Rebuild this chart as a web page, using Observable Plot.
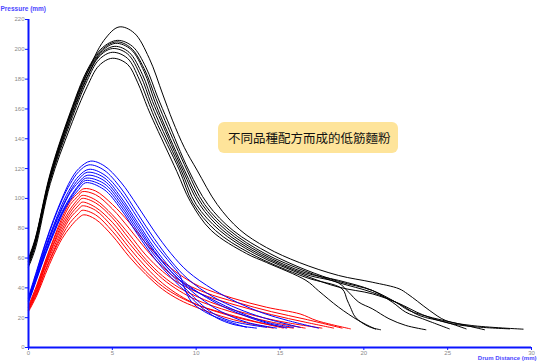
<!DOCTYPE html>
<html><head><meta charset="utf-8">
<script src="https://cdn.jsdelivr.net/npm/d3@7"></script>
<script src="https://cdn.jsdelivr.net/npm/@observablehq/plot@0.6"></script>
<style>
html,body{margin:0;padding:0;background:#fff;}
#wrap{position:relative;width:538px;height:362px;}
#note{position:absolute;left:218px;top:122px;width:180px;height:31px;background:#fee49a;border-radius:6px;
 font-family:"Noto Sans CJK TC","Noto Sans CJK SC",sans-serif;font-size:12.5px;line-height:31px;padding-left:10px;box-sizing:border-box;color:#111;white-space:nowrap;}
</style></head><body><div id="wrap"></div>
<script>
// x = drum distance (mm), y = pressure (mm)
const black1 = [[0,58],[0.4,72],[1.3,115],[2.5,156],[3.5,184],[4.5,206],[5.4,215],[6.3,211],[7.2,194],[8,170],[8.6,152],[9.3,134],[10.05,119],[11.25,96],[12.6,79],[14.2,67],[16.15,57],[18.5,48.3],[20.5,43.8],[22.1,39.4],[22.6,36],[23.2,31],[23.9,25],[24.9,18],[26.4,14.8],[29.5,12.3]];
const black2 = [[0,60],[0.4,73],[1.3,117],[2.5,158],[3.5,186],[4.4,201],[5.3,206],[6.2,202],[7,188],[7.7,168],[8.3,152],[9.55,119],[10.7,96],[12.2,78.5],[14.4,63],[16.55,52],[18.5,44.3],[20.5,38.3],[21.9,30.4],[22.7,24.8],[24.1,19.9],[25.5,16.3],[27.2,11.9]];
const black3 = [[0,59],[0.4,72],[1.3,116],[2.5,157],[3.5,185],[4.4,200],[5.25,205],[6.1,201],[6.9,187],[7.6,167],[8.15,152],[9.45,119],[10.5,96],[12,78.5],[14.1,63],[16.55,51],[18.5,43.5],[20.5,37],[22.1,29.3],[23.3,21.5],[24.9,17],[26.1,12.5]];
const black4 = [[0,58],[0.4,71],[1.3,115],[2.5,156],[3.5,184],[4.4,199],[5.2,204],[6.1,200],[6.9,185],[7.5,166],[8,152],[9.3,119],[10.35,96],[11.8,78.5],[13.9,63],[16.55,50],[18.5,45],[20.5,38.3],[21.7,30.4],[22.5,23.7],[23.5,19.3],[25.1,12.5]];
const black5 = [[0,57],[0.4,70],[1.3,114],[2.5,154],[3.5,182],[4.3,197],[5.15,202],[6,198],[6.8,183],[7.4,165],[7.9,152],[9.2,119],[10.2,96],[11.6,78.5],[13.7,63],[16.55,49],[18.5,43.2],[19.1,37],[19.7,30.4],[20.5,26],[21.5,19.3],[22.5,14.8],[23.7,11.9]];
const black6 = [[0,56],[0.4,69],[1.3,113],[2.5,153],[3.5,181],[4.2,195],[5,200.5],[5.9,197],[6.7,182],[7.3,164],[7.75,152],[9.1,119],[10,96],[11.4,78.5],[13.5,63],[16.55,48],[18.5,40.5],[20.5,36],[22,30],[23.5,22],[25,16.5],[26.5,14],[28.7,12.5]];
const black7 = [[0,55],[0.4,68],[1.3,112],[2.5,151],[3.5,179],[4.2,193],[5,198],[5.9,194],[6.6,180],[7.2,163],[7.6,152],[9,119],[9.8,97],[11.15,78.5],[13.25,63],[16.55,47],[18.7,39.4],[19,32],[19.2,27],[19.5,20.3],[20.3,14],[21,11.9]];
const black8 = [[0,54],[0.4,66],[1.3,110],[2.5,148],[3.5,175],[4.2,189],[5,194],[5.9,190],[6.5,178],[7.1,161],[7.45,152],[8.85,118],[9.65,98],[10.9,78.5],[13,63],[14.2,57],[16.55,45],[17.3,38],[18.5,27],[19.7,18],[20.7,12.3]];

const blue1 = [[0,34],[0.5,52],[1,70],[1.5,86],[2,100],[2.5,112],[3,120],[3.7,125],[4.5,122],[5.5,111],[6.5,95],[7.5,78],[8.5,63],[9.5,51],[11,39],[12.5,30],[14,23],[15.5,18],[17.3,13]];
const blue2 = [[0,33],[0.5,51],[1,69],[1.5,85],[2,99],[2.5,110],[3,118],[3.6,122.5],[4.5,119],[5.5,107],[6.5,90],[7.5,73],[8.5,58],[9.5,46],[11,34],[12.5,26],[14,20],[16.2,13.5]];
const blue3 = [[0,33],[0.5,50],[1,67],[1.5,82],[2,96],[2.5,107],[3,115],[3.6,119.5],[4.5,116],[5.5,104],[6.5,87],[7.5,70],[8.5,56],[9,49],[9.3,40],[9.7,31],[10.5,24],[11.5,19],[13,13.5]];
const blue4 = [[0,32],[0.5,49],[1,66],[1.5,81],[2,94],[2.5,105],[3,113],[3.5,117.5],[4.5,114],[5.5,101],[6.5,84],[7.5,67],[8.5,53],[9.5,42],[11,31],[12.5,23],[14,17],[15.4,13]];
const blue5 = [[0,32],[0.5,48],[1,65],[1.5,80],[2,93],[2.5,104],[3,111],[3.5,115.5],[4.5,112],[5.5,99],[6.5,82],[7.5,65],[8.5,51],[9.5,40],[10.5,31],[11.5,24],[13,17],[14.8,13]];
const blue6 = [[0,31],[0.5,47],[1,63],[1.5,78],[2,91],[2.5,101],[3,109],[3.4,113.5],[4.5,110],[5.5,97],[6.5,80],[7.5,64],[8.5,51],[9.5,41],[11,32],[12.5,24],[14.2,17],[15.8,13.5]];
const blue7 = [[0,31],[0.5,47],[1,63],[1.5,77],[2,90],[2.5,100],[3,108],[3.4,112],[4.5,108],[5.5,95],[6.5,78],[7.5,62],[8.5,49],[9.5,38],[10.2,30],[11,23],[12,18],[14.2,13.5]];
const blue8 = [[0,30],[0.5,46],[1,62],[1.5,76],[2,89],[2.5,99],[3,106],[3.4,110.5],[4.5,106],[5.5,93],[6.5,76],[7.5,60],[8.5,47],[9.5,36],[10.2,28],[11.2,20],[12.2,15.5],[13.6,13]];

const red1 = [[0,28],[0.5,42],[1,58],[1.5,73],[2,87],[2.5,98],[3,104],[3.3,106.5],[4,105],[5,96],[6,84],[7,70],[8,58],[9,49],[10.2,41],[12.2,33],[14.2,27],[16.2,22.5],[17.2,18],[19.2,12.5]];
const red2 = [[0,27],[0.5,41],[1,57],[1.5,72],[2,85],[2.5,96],[3,102],[3.2,104.5],[4,102.5],[5,93],[6,80],[7,66],[8,54],[9,45],[10.5,37],[12.5,30],[14.5,24],[16.5,19],[18.7,13]];
const red3 = [[0,27],[0.5,40],[1,56],[1.5,70],[2,83],[2.5,93],[3,100],[3.2,102],[4,99],[5,89],[6,76],[7,62],[8,51],[9,43],[10.5,35],[12.5,28],[14.5,22],[16.5,17],[18.2,13]];
const red4 = [[0,26],[0.5,39],[1,55],[1.5,69],[2,81],[2.5,91],[3,98],[3.2,100],[4,97],[5,87],[6,73],[7,59],[8,48],[9,40],[10.5,32],[12,26],[14,20],[15.5,16.5],[17.5,13]];
const red5 = [[0,26],[0.5,38],[1,54],[1.5,67],[2,79],[2.5,89],[3,95.5],[3.2,97.5],[4,94],[5,84],[6,70],[7,57],[8,46],[9,38],[10,32],[11.5,26],[13,21],[14.5,17],[16.5,13]];
const red6 = [[0,25],[0.5,37],[1,52],[1.5,65],[2,77],[2.5,87],[3,93],[3.2,95],[4,92],[5,81],[6,67],[7,54],[8,43],[9,35],[10,29],[11.5,23],[13,18.5],[14.5,15],[15.8,13]];
const red7 = [[0,25],[0.5,36],[1,51],[1.5,64],[2,75],[2.5,84],[3,90],[3.2,92],[4,89],[5,78],[6,64],[7,51],[8,41],[9,34],[10.2,28],[12,22],[13.5,17.5],[15.2,13]];
const red8 = [[0,24],[0.5,35],[1,49],[1.5,62],[2,73],[2.5,81],[3,87],[3.3,89],[4,86],[5,75],[6,61],[7,49],[8,39],[9,32],[10,27],[11.5,21],[13,16.5],[14.6,13]];

const xTicks = [0, 5, 10, 15, 20, 25, 30];
const yTicks = [0, 20, 40, 60, 80, 100, 120, 140, 160, 180, 200, 220];
const xTitle = "Drum Distance (mm)";
const yTitle = "Pressure (mm)";
const noteText = "不同品種配方而成的低筋麵粉";

const families = [
  {name: "black", color: "#000000", curves: [black1, black2, black3, black4, black5, black6, black7, black8]},
  {name: "red", color: "#ff0000", curves: [red1, red2, red3, red4, red5, red6, red7, red8]},
  {name: "blue", color: "#0000ff", curves: [blue1, blue2, blue3, blue4, blue5, blue6, blue7, blue8]}
];
const rows = [];
families.forEach(f => f.curves.forEach((c, i) => c.forEach(([x, y]) => rows.push({x, y, id: f.name + i, fam: f.name}))));

const axisColor = "#0a14ff";
const titleColor = "#4b46ff";

const chart = Plot.plot({
  width: 538, height: 362,
  marginLeft: 28, marginRight: 7, marginTop: 19, marginBottom: 15,
  style: {fontFamily: "Liberation Sans, Arial, sans-serif", background: "#fff", overflow: "visible"},
  x: {domain: [0, 30]},
  y: {domain: [0, 220]},
  color: {domain: families.map(f => f.name), range: families.map(f => f.color)},
  marks: [
    Plot.line(rows, {x: "x", y: "y", z: "id", stroke: "fam", strokeWidth: 1, curve: "catmull-rom"}),
    Plot.axisX(xTicks, {tickSize: 3, tickPadding: 0, fontSize: 6, stroke: axisColor, color: "#8a8a8a", label: null}),
    Plot.axisY(yTicks, {tickSize: 3, tickPadding: 1, fontSize: 6, stroke: axisColor, color: "#8a8a8a", label: null}),
    Plot.ruleX([0], {y1: 0, y2: 220, stroke: axisColor, strokeWidth: 2}),
    Plot.ruleY([0], {x1: 0, x2: 30, stroke: axisColor, strokeWidth: 2}),
    Plot.text([yTitle], {frameAnchor: "top-left", dx: -28, dy: -13, textAnchor: "start", fontSize: 6.5, fontWeight: "bold", fill: titleColor}),
    Plot.text([xTitle], {frameAnchor: "bottom-right", dx: 5, dy: 12, textAnchor: "end", fontSize: 6, fontWeight: "bold", fill: titleColor})
  ]
});
const wrap = document.getElementById("wrap");
wrap.appendChild(chart);
const note = document.createElement("div");
note.id = "note";
note.textContent = noteText;
wrap.appendChild(note);
</script>
</body></html>
